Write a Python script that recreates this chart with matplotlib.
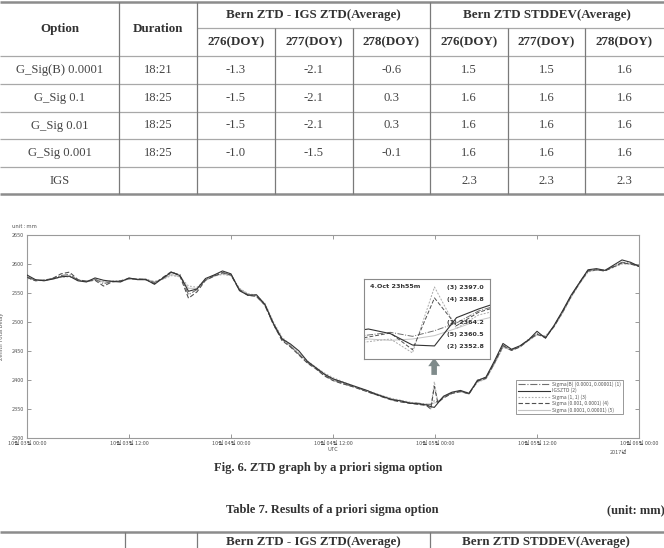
import matplotlib
matplotlib.use("Agg")
import matplotlib.pyplot as plt

# ---- table 6 (top) ----
options = ["G_Sig(B) 0.0001", "G_Sig 0.1", "G_Sig 0.01", "G_Sig 0.001", "IGS"]
durations = ["18:21", "18:25", "18:25", "18:25", ""]
diff_276 = [-1.3, -1.5, -1.5, -1.0, None]
diff_277 = [-2.1, -2.1, -2.1, -1.5, None]
diff_278 = [-0.6, 0.3, 0.3, -0.1, None]
std_276 = [1.5, 1.6, 1.6, 1.6, 2.3]
std_277 = [1.5, 1.6, 1.6, 1.6, 2.3]
std_278 = [1.6, 1.6, 1.6, 1.6, 2.3]
doy_labels = ["276(DOY)", "277(DOY)", "278(DOY)"]

# ---- ZTD series (hours from 10/03 00:00 UTC) ----
hours = (list(range(0, 48)) + [47.5, 47.92, 48.33] + list(range(49, 73)))

igs_ztd = [2581, 2573, 2571, 2574, 2578, 2579, 2571, 2569, 2576, 2572, 2570, 2569,
           2576, 2573, 2573, 2565, 2576, 2586, 2580, 2553, 2557, 2575, 2581, 2588,
           2583, 2554, 2546, 2547, 2530, 2497, 2471, 2462, 2450, 2432, 2421, 2410,
           2402, 2397, 2392, 2387, 2382, 2376, 2371, 2366, 2364, 2360, 2359, 2357,
           2354, 2352.8, 2360,
           2372, 2379, 2382, 2377, 2399, 2405, 2433, 2463, 2453, 2459, 2469, 2484,
           2472, 2494, 2519, 2546, 2568, 2590, 2592, 2589, 2598, 2607, 2603, 2596]
sigma_b = [2578, 2572, 2572, 2575, 2580, 2582, 2572, 2570, 2574, 2566, 2570, 2570,
           2575, 2574, 2574, 2568, 2575, 2585, 2582, 2547, 2556, 2573, 2580, 2585,
           2582, 2556, 2547, 2545, 2528, 2495, 2470, 2458, 2444, 2430, 2420, 2408,
           2400, 2395, 2390, 2386, 2380, 2375, 2370, 2366, 2363, 2361, 2360, 2358,
           2358, 2364.2, 2362,
           2370, 2378, 2381, 2376, 2400, 2404, 2430, 2460, 2452, 2458, 2470, 2480,
           2474, 2493, 2518, 2544, 2568, 2589, 2590, 2588, 2596, 2603, 2601, 2597]
sigma_1 = [2575, 2572, 2572, 2574, 2577, 2578, 2572, 2571, 2573, 2570, 2571, 2571,
           2574, 2574, 2573, 2570, 2574, 2580, 2578, 2562, 2560, 2572, 2579, 2582,
           2580, 2558, 2549, 2546, 2532, 2500, 2474, 2460, 2446, 2433, 2422, 2412,
           2404, 2398, 2392, 2387, 2382, 2377, 2372, 2368, 2365, 2362, 2360, 2358,
           2350, 2397.0, 2362,
           2371, 2377, 2380, 2378, 2396, 2402, 2428, 2456, 2452, 2458, 2468, 2478,
           2476, 2492, 2515, 2542, 2566, 2586, 2590, 2590, 2594, 2600, 2600, 2596]
sigma_001 = [2577, 2571, 2572, 2575, 2583, 2586, 2573, 2570, 2572, 2562, 2569, 2571,
             2575, 2574, 2573, 2566, 2577, 2587, 2579, 2541, 2552, 2572, 2579, 2585,
             2581, 2555, 2546, 2544, 2529, 2496, 2468, 2457, 2443, 2429, 2419, 2407,
             2399, 2394, 2390, 2385, 2380, 2375, 2370, 2365, 2362, 2360, 2358, 2356,
             2350, 2388.8, 2361,
             2369, 2377, 2380, 2376, 2398, 2403, 2430, 2459, 2451, 2457, 2469, 2479,
             2473, 2492, 2517, 2544, 2567, 2588, 2590, 2588, 2595, 2602, 2600, 2596]
sigma_0001 = [2576, 2572, 2572, 2574, 2578, 2579, 2572, 2571, 2573, 2569, 2571, 2571,
              2574, 2574, 2573, 2569, 2574, 2582, 2578, 2558, 2558, 2572, 2579, 2583,
              2580, 2557, 2548, 2545, 2531, 2498, 2472, 2459, 2445, 2432, 2421, 2410,
              2402, 2396, 2391, 2386, 2381, 2376, 2371, 2367, 2364, 2361, 2359, 2358,
              2358, 2360.5, 2362,
              2370, 2377, 2380, 2377, 2397, 2402, 2428, 2457, 2451, 2457, 2468, 2478,
              2475, 2492, 2516, 2543, 2566, 2587, 2590, 2589, 2595, 2601, 2600, 2596]

# ---- zoom window around 4.Oct 23h55m (minutes) ----
inset_min = [-20, -15, -10, -5, 0, 5, 10, 15]
in_sigma_b = [2359, 2361, 2363, 2360, 2364.2, 2370, 2379, 2384]
in_igs = [2363, 2365.5, 2362, 2353.5, 2352.8, 2374, 2380.5, 2386]
in_sigma_1 = [2354, 2356, 2358, 2347.6, 2397.0, 2366, 2376, 2380]
in_sigma_001 = [2357, 2359.5, 2362.5, 2350, 2388.8, 2368, 2378, 2383]
in_sigma_0001 = [2357, 2358, 2357, 2358, 2360.5, 2366, 2372, 2376]

xtick_hours = [0, 12, 24, 36, 48, 60, 72]
xtick_labels = ["10월 03일 00:00", "10월 03일 12:00", "10월 04일 00:00",
                "10월 04일 12:00", "10월 05일 00:00", "10월 05일 12:00",
                "10월 06일 00:00"]

plt.rcParams['font.family'] = ['Noto Sans CJK KR', 'DejaVu Sans']
SERIF = 'Liberation Serif'

fig = plt.figure(figsize=(6.64, 5.48), dpi=100)
page = fig.add_axes([0, 0, 1, 1])
page.set_xlim(0, 664)
page.set_ylim(548, 0)
page.axis('off')

# table grid
col_x = [0, 119, 197, 275, 353, 430, 508, 585, 664]
row_y = [2, 28, 56, 84, 112, 139, 167, 194]
page.hlines([row_y[0], row_y[-1]], 0, 664, color='#8c8c8c', lw=1.8)
page.hlines(row_y[2:-1], 0, 664, color='#a8a8a8', lw=0.9)
page.hlines(row_y[1], col_x[2], 664, color='#a8a8a8', lw=0.9)
page.vlines([col_x[1], col_x[2], col_x[5]], row_y[0], row_y[-1], color='#7a7a7a', lw=0.9)
page.vlines([col_x[3], col_x[4], col_x[6], col_x[7]], row_y[1], row_y[-1],
            color='#7a7a7a', lw=0.9)


def cx(i):
    return (col_x[i] + col_x[i + 1]) / 2


head = dict(family=SERIF, fontsize=9.4, fontweight='bold', color='#333333',
            ha='center', va='center')
body = dict(family=SERIF, fontsize=9.1, color='#444444', ha='center', va='center')

mid_head = (row_y[0] + row_y[2]) / 2
page.text(cx(0), mid_head, "Option", **head)
page.text(cx(1), mid_head, "Duration", **head)
page.text((col_x[2] + col_x[5]) / 2, (row_y[0] + row_y[1]) / 2,
          "Bern ZTD - IGS ZTD(Average)", **head)
page.text((col_x[5] + col_x[8]) / 2, (row_y[0] + row_y[1]) / 2,
          "Bern ZTD STDDEV(Average)", **head)
for i, lab in enumerate(doy_labels * 2):
    page.text(cx(i + 2), (row_y[1] + row_y[2]) / 2, lab, **head)


def fmt(v):
    return "" if v is None else f"{v:.1f}"


for r in range(len(options)):
    cells = [options[r], durations[r], fmt(diff_276[r]), fmt(diff_277[r]),
             fmt(diff_278[r]), fmt(std_276[r]), fmt(std_277[r]), fmt(std_278[r])]
    ym = (row_y[r + 2] + row_y[r + 3]) / 2
    for i, c in enumerate(cells):
        page.text(cx(i), ym, c, **body)

# captions
cap = dict(family=SERIF, fontsize=9.0, fontweight='bold', color='#333333', va='center')
page.text(328, 468, "Fig. 6. ZTD graph by a priori sigma option", ha='center', **cap)
page.text(226, 510, "Table 7. Results of a priori sigma option", ha='left', **cap)
page.text(665, 510, "(unit: mm)", ha='right', **cap)

# next table (starts at the page bottom)
page.hlines(532, 0, 664, color='#8c8c8c', lw=1.8)
page.vlines([125, 197, 430], 532, 548, color='#7a7a7a', lw=0.9)
page.text(313, 542, "Bern ZTD - IGS ZTD(Average)", **head)
page.text(546, 542, "Bern ZTD STDDEV(Average)", **head)

# chart labels outside axes
page.text(12, 226, "unit : mm", fontsize=4, color='#555555', ha='left', va='center')
page.text(619, 452, "2017년", fontsize=4, color='#555555', ha='center', va='center')

# ---- ZTD chart ----
ax = fig.add_axes([27 / 664, (548 - 438) / 548, 612 / 664, 203 / 548])
ax.plot(hours, sigma_0001, color='#c4c4c4', lw=0.8, ls='-',
        label="Sigma (0.0001, 0.00001) (5)", zorder=2)
ax.plot(hours, sigma_1, color='#b0b0b0', lw=0.8, ls=(0, (1.5, 1.5)),
        label="Sigma (1, 1) (3)", zorder=2)
ax.plot(hours, sigma_b, color='#707070', lw=0.8, ls='-.',
        label="Sigma(B) (0.0001, 0.00001) (1)", zorder=3)
ax.plot(hours, sigma_001, color='#505050', lw=0.8, ls=(0, (4, 2)),
        label="Sigma (0.001, 0.0001) (4)", zorder=3)
ax.plot(hours, igs_ztd, color='#333333', lw=0.8, ls='-',
        label="IGSZTD (2)", zorder=4)

ax.set_xlim(0, 72)
ax.set_ylim(2300, 2650)
ax.set_yticks(range(2300, 2651, 50))
ax.set_xticks(xtick_hours)
ax.set_xticklabels(xtick_labels)
ax.tick_params(direction='in', length=3, width=0.6, color='#888888',
               labelsize=4, labelcolor='#555555', pad=2,
               top=True, right=True)
for s in ax.spines.values():
    s.set_color('#9a9a9a')
    s.set_linewidth(0.8)
ax.set_xlabel("UTC", fontsize=4, color='#555555', labelpad=1)
ax.set_ylabel("Zenith Total Delay", fontsize=4, color='#555555')
ax.yaxis.set_label_coords(-0.037, 0.5)

handles, labels = ax.get_legend_handles_labels()
order = ["Sigma(B) (0.0001, 0.00001) (1)", "IGSZTD (2)", "Sigma (1, 1) (3)",
         "Sigma (0.001, 0.0001) (4)", "Sigma (0.0001, 0.00001) (5)"]
hmap = dict(zip(labels, handles))
leg = ax.legend([hmap[k] for k in order], order, loc='upper left',
                bbox_to_anchor=((516 - 27) / 612, (438 - 380) / 203),
                borderaxespad=0, fontsize=3.6, handlelength=6.5,
                handletextpad=0.4, labelspacing=0.2, borderpad=0.3,
                fancybox=False, framealpha=1, edgecolor='#888888')
leg.get_frame().set_linewidth(0.6)
for t in leg.get_texts():
    t.set_color('#555555')

ax.annotate('', xy=(47.9, 2443), xytext=(47.9, 2404),
            arrowprops=dict(arrowstyle='simple,head_length=0.6,head_width=0.85,tail_width=0.4',
                            color='#7f8b8b', lw=0))

# ---- zoom inset ----
ins = fig.add_axes([364 / 664, (548 - 359) / 548, 126 / 664, 80 / 548])
ins.plot(inset_min, in_sigma_0001, color='#c4c4c4', lw=0.7)
ins.plot(inset_min, in_sigma_1, color='#aaaaaa', lw=0.7, ls=(0, (2, 1.5)))
ins.plot(inset_min, in_sigma_b, color='#707070', lw=0.7, ls='-.')
ins.plot(inset_min, in_sigma_001, color='#505050', lw=0.7, ls=(0, (4, 2)))
ins.plot(inset_min, in_igs, color='#333333', lw=0.8)
ins.set_xlim(-16, 12.6)
ins.set_ylim(2343, 2403)
ins.set_xticks([])
ins.set_yticks([])
for s in ins.spines.values():
    s.set_color('#8a8a8a')
    s.set_linewidth(0.8)

bold = dict(fontsize=4.6, fontweight='bold', color='#333333', family='DejaVu Sans',
            va='center', ha='left', transform=ins.transAxes)
ins.text(0.05, 0.9, "4.Oct 23h55m", **bold)
at0 = inset_min.index(0)
inset_labels = [(3, in_sigma_1), (4, in_sigma_001), (1, in_sigma_b),
                (5, in_sigma_0001), (2, in_igs)]
for (n, series), yf in zip(inset_labels, [0.9, 0.75, 0.46, 0.31, 0.16]):
    ins.text(0.655, yf, f"({n}) {series[at0]:.1f}", **bold)

fig.savefig("out.png", dpi=100)
